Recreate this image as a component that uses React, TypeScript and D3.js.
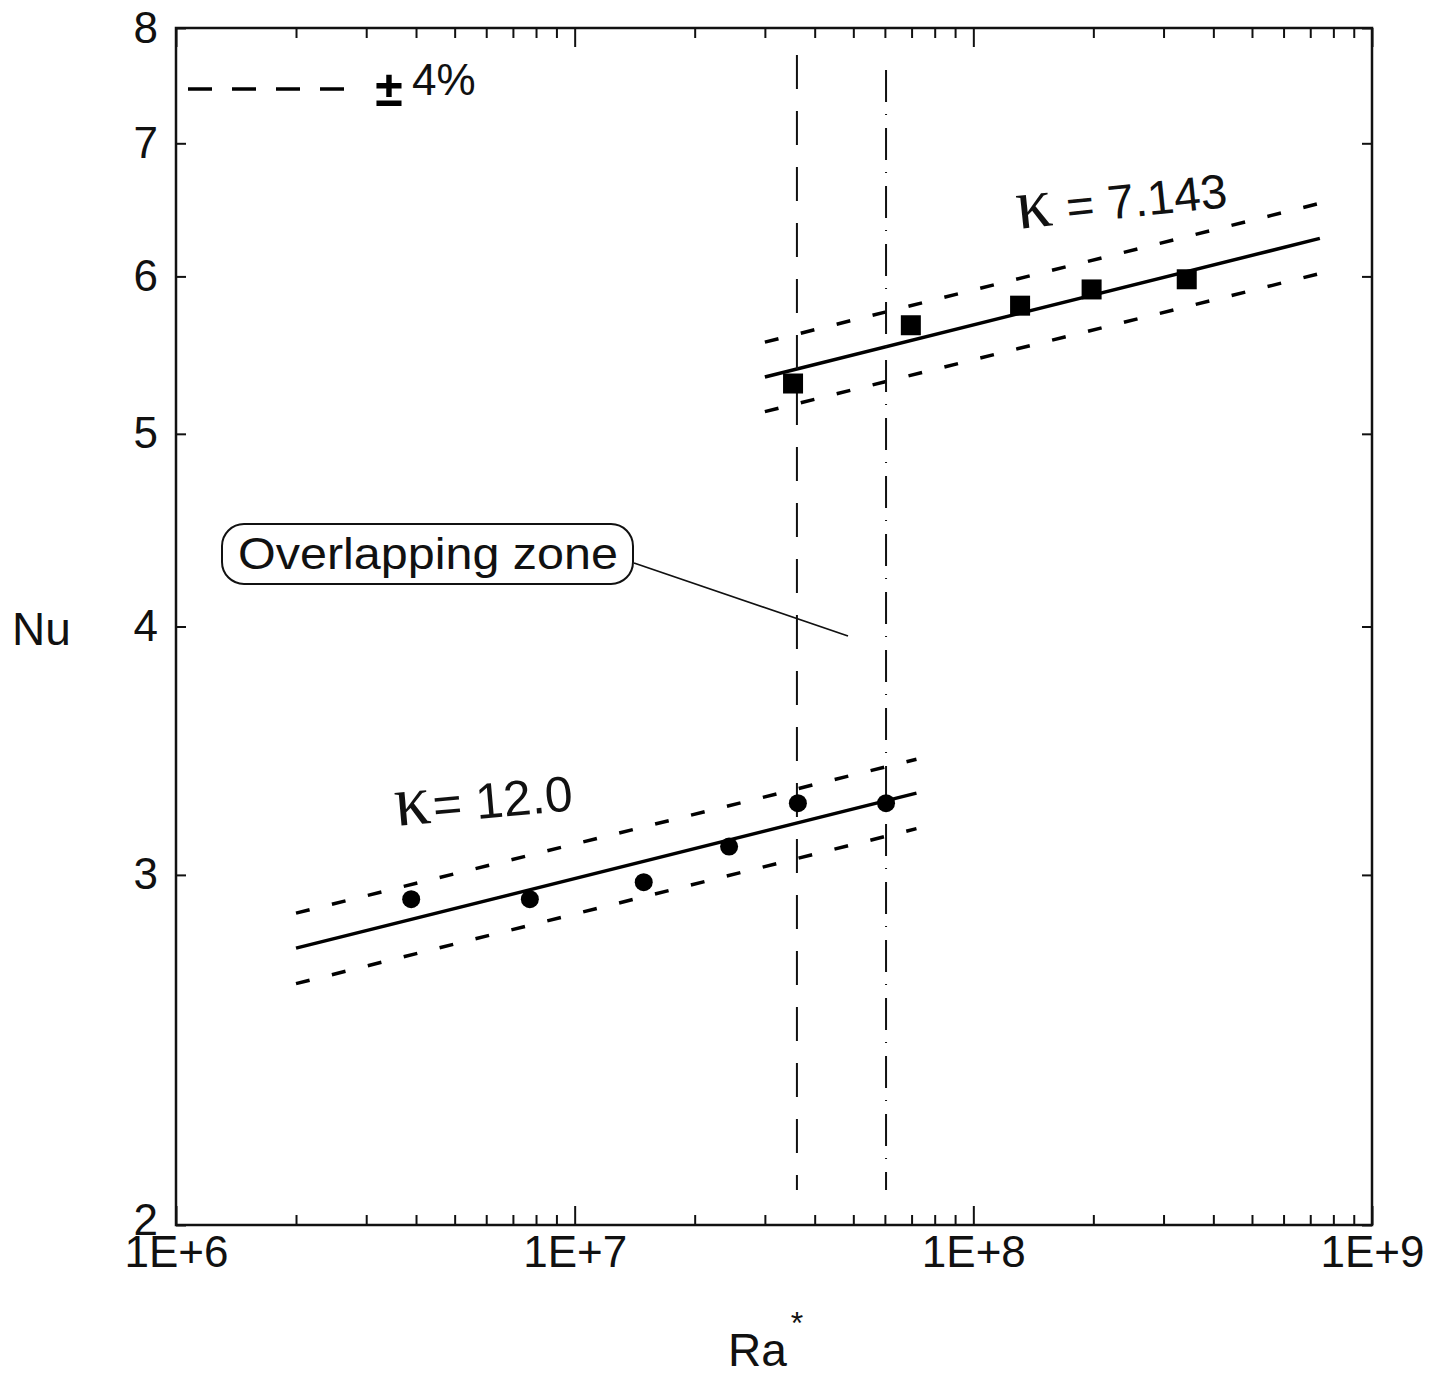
import React, { useEffect, useRef } from 'react';
import * as d3 from 'd3';

// values
const xTickLabels = ['1E+6', '1E+7', '1E+8', '1E+9'];
const xTickValues = [1e6, 1e7, 1e8, 1e9];
const yTickValues = [2, 3, 4, 5, 6, 7, 8];

// kappa = 7.143 (squares)
const raSquares = [3.53e7, 6.97e7, 1.31e8, 1.98e8, 3.43e8];
const nuSquares = [5.3, 5.67, 5.8, 5.91, 5.98];
const fit7Ra = [3.0e7, 7.4e8];
const fit7Nu = [5.34, 6.27];
const fit7Upper = [5.56, 6.53];
const fit7Lower = [5.13, 6.02];

// kappa = 12.0 (circles)
const raCircles = [3.89e6, 7.72e6, 1.49e7, 2.44e7, 3.63e7, 6.04e7];
const nuCircles = [2.917, 2.917, 2.975, 3.1, 3.26, 3.26];
const fit12Ra = [2.0e6, 7.2e7];
const fit12Nu = [2.756, 3.298];
const fit12Upper = [2.87, 3.43];
const fit12Lower = [2.645, 3.165];

// overlapping zone limits
const overlapRa = [3.61e7, 6.04e7];

const W = 1452;
const H = 1380;
const FONT = "'Liberation Sans', Arial, sans-serif";
const SERIF = "'Liberation Serif', 'Times New Roman', serif";

const App = () => {
  const ref = useRef<SVGSVGElement>(null);

  useEffect(() => {
    const root = d3.select(ref.current);
    root.selectAll('*').remove();

    const left = 176, right = 1372, top = 28, bottom = 1225;

    const x = d3.scaleLog().domain([1e6, 1e9]).range([left, right]);
    const y = d3.scaleLog().domain([2, 8]).range([bottom, top]);

    const svg = root.append('g');

    // frame
    svg.append('rect')
      .attr('x', left).attr('y', top)
      .attr('width', right - left).attr('height', bottom - top)
      .attr('fill', 'none').attr('stroke', '#111').attr('stroke-width', 2.5);

    const minor: number[] = [];
    [1e6, 1e7, 1e8].forEach(d => {
      for (let m = 2; m <= 9; m++) minor.push(m * d);
    });

    const styleAxis = (g: any) => {
      g.select('.domain').remove();
      g.selectAll('.tick line').attr('stroke', '#111').attr('stroke-width', 2);
    };

    // bottom axis: minor + major ticks inward
    svg.append('g').attr('transform', `translate(0,${bottom})`)
      .call(d3.axisBottom(x).tickValues(minor).tickSize(-10).tickFormat(() => ''))
      .call(styleAxis);
    svg.append('g').attr('transform', `translate(0,${bottom})`)
      .call(d3.axisBottom(x).tickValues(xTickValues).tickSize(-19).tickPadding(0)
        .tickFormat((_, i) => xTickLabels[i]))
      .call(styleAxis)
      .selectAll('text')
      .attr('font-family', FONT).attr('font-size', 44).attr('fill', '#111')
      .attr('y', 42).attr('dy', 0);

    // top axis
    svg.append('g').attr('transform', `translate(0,${top})`)
      .call(d3.axisTop(x).tickValues(minor).tickSize(-10).tickFormat(() => ''))
      .call(styleAxis);
    svg.append('g').attr('transform', `translate(0,${top})`)
      .call(d3.axisTop(x).tickValues(xTickValues).tickSize(-19).tickFormat(() => ''))
      .call(styleAxis);

    // left axis
    svg.append('g').attr('transform', `translate(${left},0)`)
      .call(d3.axisLeft(y).tickValues(yTickValues).tickSize(-10).tickPadding(18)
        .tickFormat(d3.format('d')))
      .call(styleAxis)
      .selectAll('text')
      .attr('font-family', FONT).attr('font-size', 44).attr('fill', '#111')
      .attr('dy', (d: number) => (d === 2 ? '0.22em' : '0.32em'));

    // right axis
    svg.append('g').attr('transform', `translate(${right},0)`)
      .call(d3.axisRight(y).tickValues(yTickValues).tickSize(-10).tickFormat(() => ''))
      .call(styleAxis);

    // axis titles
    svg.append('text').attr('x', 12).attr('y', 645)
      .attr('font-family', FONT).attr('font-size', 46).attr('fill', '#111').text('Nu');
    const ra = svg.append('text').attr('x', 728).attr('y', 1366)
      .attr('font-family', FONT).attr('font-size', 46).attr('fill', '#111');
    ra.append('tspan').text('Ra');
    ra.append('tspan').attr('dx', 4).attr('dy', -32).attr('font-size', 32).text('*');

    const line = d3.line<[number, number]>().x(d => x(d[0])).y(d => y(d[1]));

    // fit lines and +/- 4% bands
    const drawFit = (raArr: number[], mid: number[], up: number[], lo: number[]) => {
      svg.append('path')
        .attr('d', line(raArr.map((r, i) => [r, mid[i]] as [number, number])))
        .attr('fill', 'none').attr('stroke', '#000').attr('stroke-width', 3.5);
      [up, lo].forEach(b => {
        svg.append('path')
          .attr('d', line(raArr.map((r, i) => [r, b[i]] as [number, number])))
          .attr('fill', 'none').attr('stroke', '#000').attr('stroke-width', 3.5)
          .attr('stroke-dasharray', '14,23');
      });
    };
    drawFit(fit7Ra, fit7Nu, fit7Upper, fit7Lower);
    drawFit(fit12Ra, fit12Nu, fit12Upper, fit12Lower);

    // overlapping zone verticals
    svg.append('line')
      .attr('x1', x(overlapRa[0])).attr('x2', x(overlapRa[0]))
      .attr('y1', 55).attr('y2', 1190)
      .attr('stroke', '#111').attr('stroke-width', 2).attr('stroke-dasharray', '34,22');
    svg.append('line')
      .attr('x1', x(overlapRa[1])).attr('x2', x(overlapRa[1]))
      .attr('y1', 70).attr('y2', 1190)
      .attr('stroke', '#111').attr('stroke-width', 2).attr('stroke-dasharray', '32,12,1,13');

    // markers
    svg.selectAll('.sq').data(raSquares).enter().append('rect')
      .attr('class', 'sq')
      .attr('x', (d: number) => x(d) - 10)
      .attr('y', (_: number, i: number) => y(nuSquares[i]) - 10)
      .attr('width', 20).attr('height', 20).attr('fill', '#000');
    svg.selectAll('.ci').data(raCircles).enter().append('circle')
      .attr('class', 'ci')
      .attr('cx', (d: number) => x(d))
      .attr('cy', (_: number, i: number) => y(nuCircles[i]))
      .attr('r', 9).attr('fill', '#000');

    // kappa labels
    const kLabel = (tx: number, ty: number, rot: number, val: string, gap: number, size: number) => {
      const t = svg.append('text')
        .attr('transform', `translate(${tx},${ty}) rotate(${rot})`)
        .attr('font-family', FONT).attr('font-size', size).attr('fill', '#111');
      t.append('tspan').attr('font-family', SERIF).attr('font-size', 72).text('κ');
      t.append('tspan').attr('dx', gap).text(val);
    };
    kLabel(1018, 229, -6, '= 7.143', 14, 48);
    kLabel(396, 826, -5, '= 12.0', 2, 50);

    // +/- 4% legend
    svg.append('line').attr('x1', 188).attr('x2', 345).attr('y1', 89).attr('y2', 89)
      .attr('stroke', '#000').attr('stroke-width', 3.5).attr('stroke-dasharray', '24,20');
    svg.append('text').attr('x', 389).attr('y', 106).attr('text-anchor', 'middle')
      .attr('font-family', FONT).attr('font-size', 50).attr('font-weight', 'bold')
      .attr('fill', '#000').text('±');
    svg.append('text').attr('x', 412).attr('y', 95)
      .attr('font-family', FONT).attr('font-size', 44).attr('fill', '#111').text('4%');

    // overlapping zone callout
    svg.append('line').attr('x1', 634).attr('y1', 563).attr('x2', 848).attr('y2', 636)
      .attr('stroke', '#111').attr('stroke-width', 1.8);
    svg.append('rect').attr('x', 222).attr('y', 524).attr('width', 411).attr('height', 60)
      .attr('rx', 22).attr('ry', 22)
      .attr('fill', '#fff').attr('stroke', '#111').attr('stroke-width', 2);
    svg.append('text').attr('x', 238).attr('y', 569)
      .attr('font-family', FONT).attr('font-size', 44).attr('fill', '#111')
      .attr('textLength', 380).attr('lengthAdjust', 'spacingAndGlyphs')
      .text('Overlapping zone');
  }, []);

  return (
    <svg ref={ref} width={W} height={H}
      style={{ position: 'absolute', left: 0, top: 0, background: '#fff' }} />
  );
};

export default App;
